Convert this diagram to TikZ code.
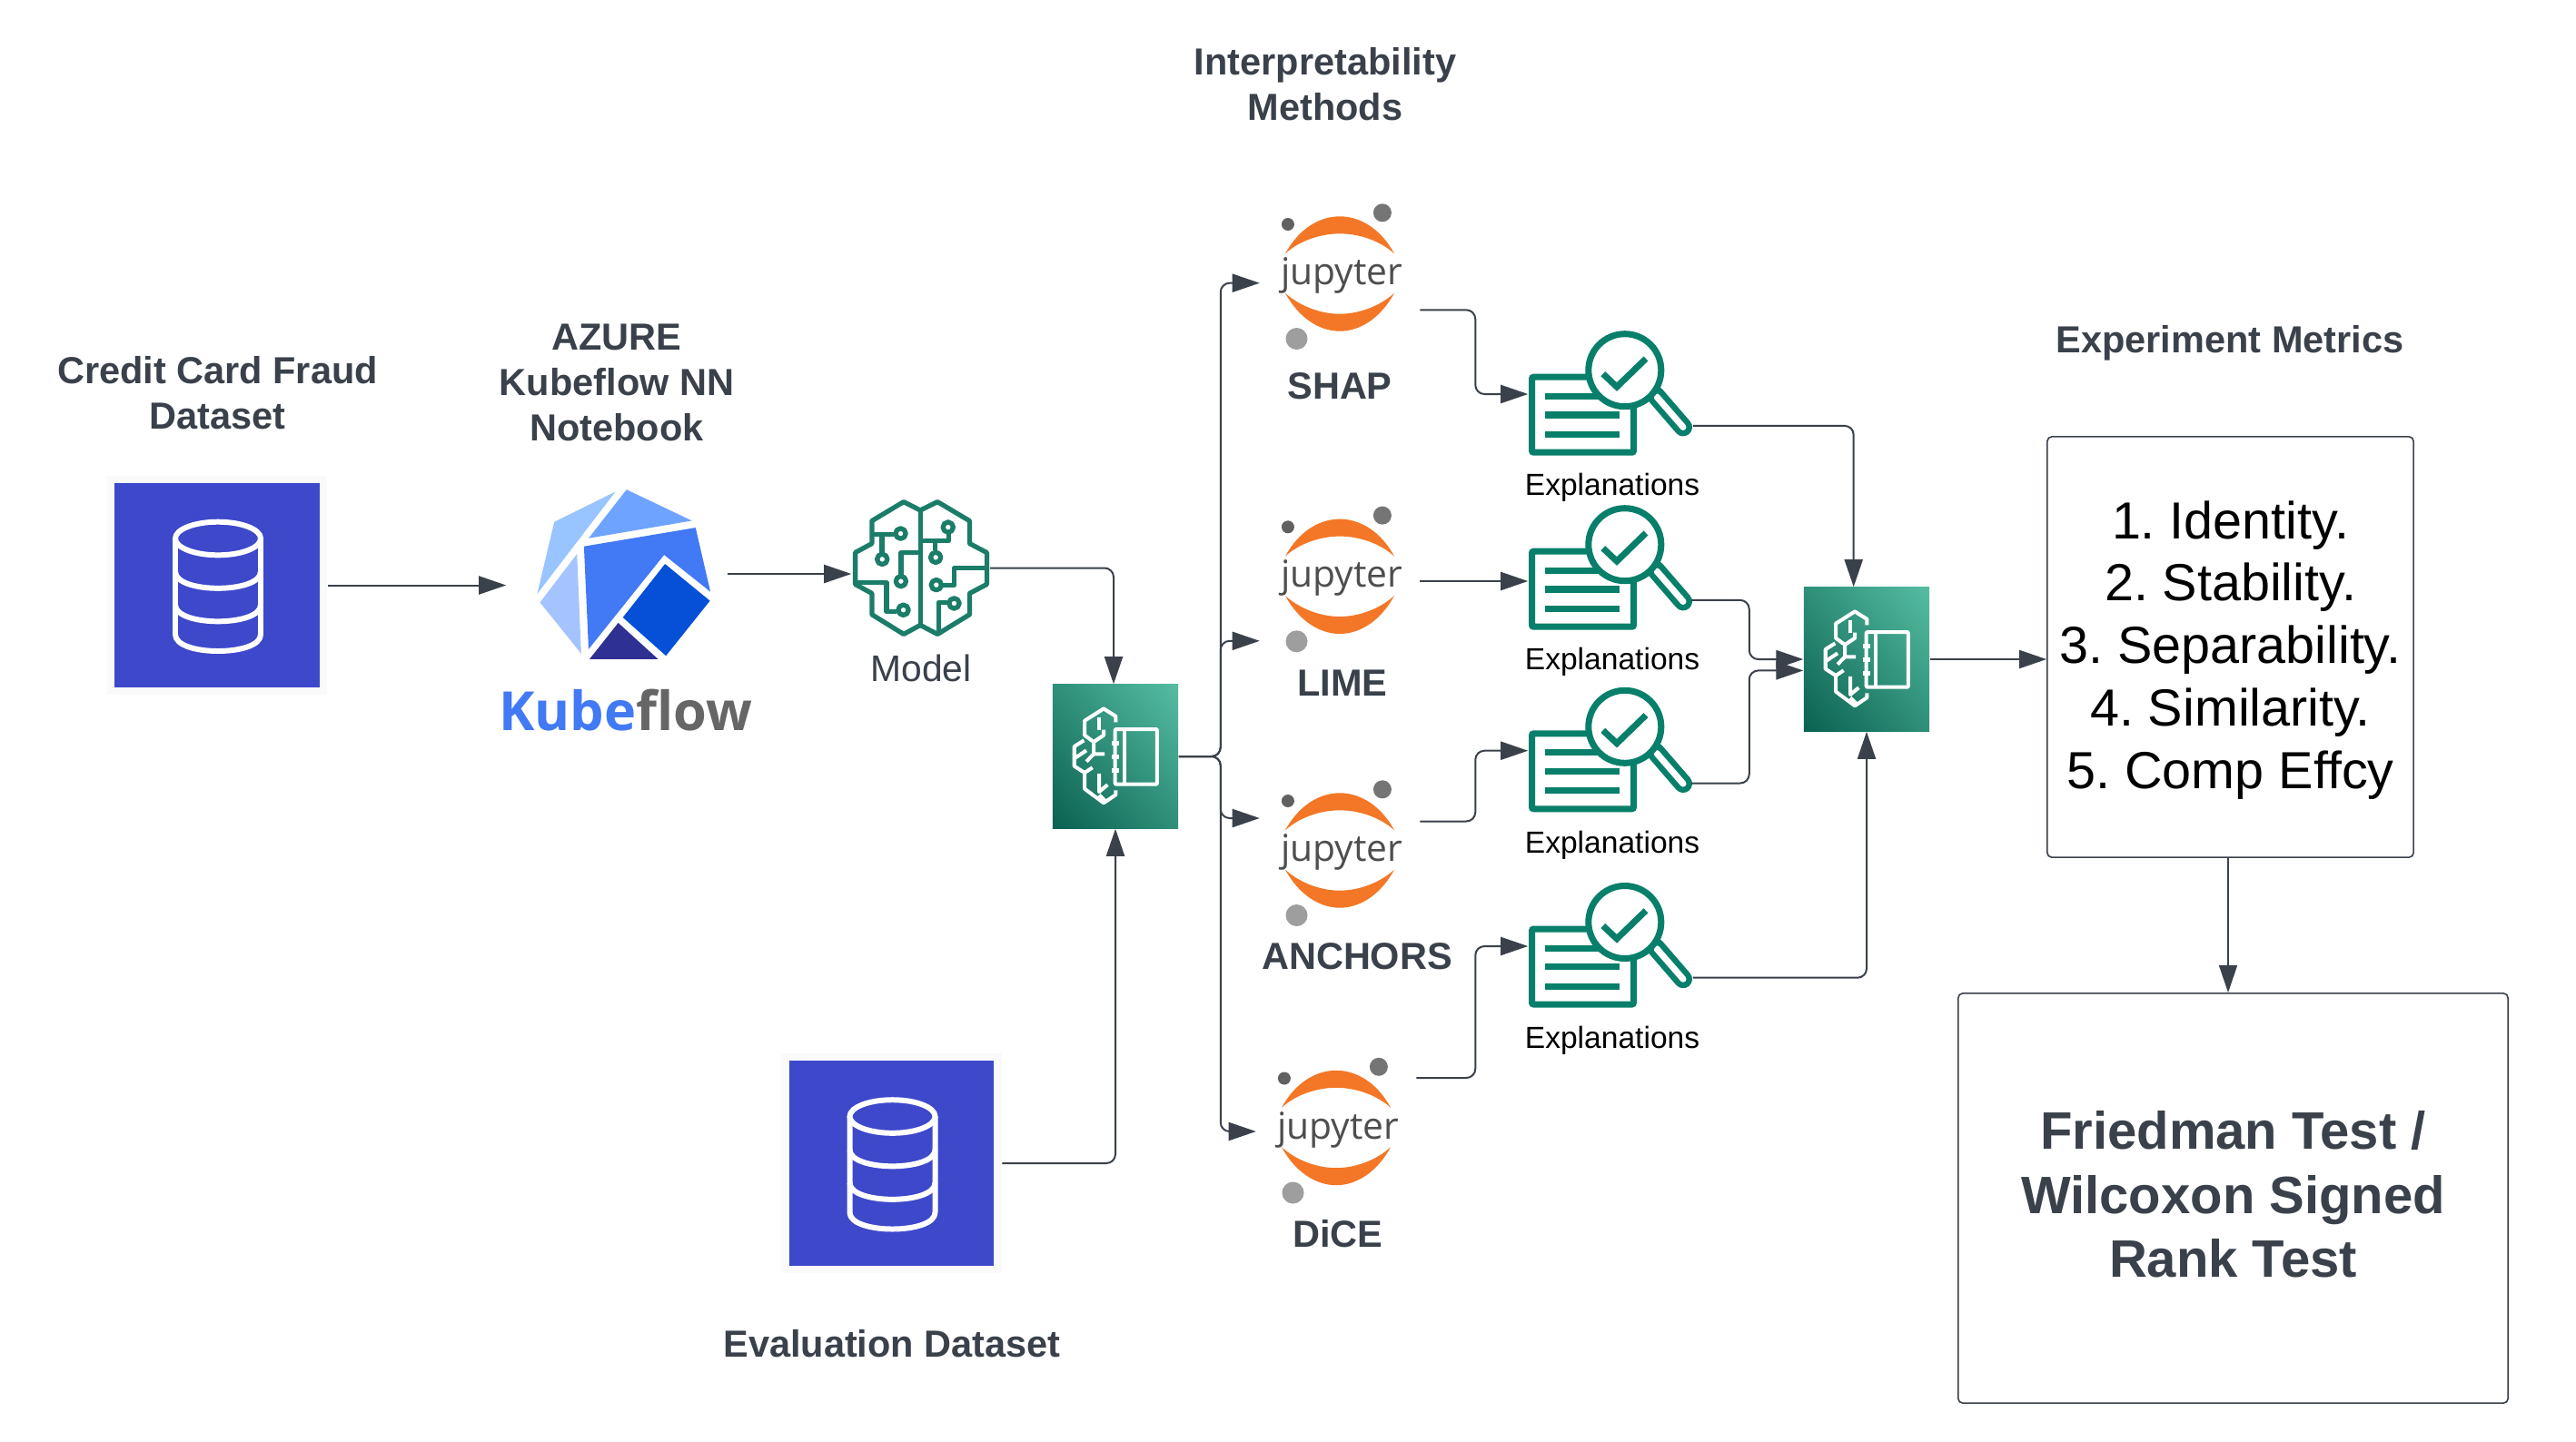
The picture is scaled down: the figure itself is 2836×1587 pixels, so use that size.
\documentclass[tikz,border=0pt]{standalone}
\usepackage{fontspec}
\setmainfont{Liberation Sans}
\newfontfamily\osans{Open Sans}
\usetikzlibrary{arrows.meta,calc,shadings}
\frenchspacing
\definecolor{ink}{HTML}{3A414A}
\definecolor{dbblue}{HTML}{3D48CB}
\definecolor{frameg}{HTML}{FAFAFA}
\definecolor{brainc}{HTML}{1B7D68}
\definecolor{expc}{HTML}{087F6A}
\definecolor{jorange}{HTML}{F37726}
\definecolor{jtext}{HTML}{4E4E4E}
\definecolor{kfblue}{HTML}{4279F4}
\definecolor{kfgrey}{HTML}{666666}
\definecolor{smdark}{HTML}{0A6150}
\definecolor{smlight}{HTML}{55BDA1}
\definecolor{smmid}{HTML}{2F8F79}
\definecolor{kfa}{HTML}{98C4FF}
\definecolor{kfb}{HTML}{6EA3FF}
\definecolor{kfc}{HTML}{A5C4FF}
\definecolor{kfd}{HTML}{0550D6}
\definecolor{kfe}{HTML}{2E3191}
\tikzset{
  conn/.style={draw=ink,line width=0.57pt,rounded corners=0.1cm,-{Triangle[length=0.3cm,width=0.2cm,fill=ink]}},
  iconbox/.style={rectangle,inner sep=0pt,minimum width=#1},
  dbframe/.style={rectangle,inner sep=0pt,fill=frameg,minimum width=2.42cm,minimum height=2.41cm},
  smbox/.style={rectangle,inner sep=0pt,minimum width=1.38cm,minimum height=1.58cm,shade,
    lower left=smdark,upper right=smlight,upper left=smmid,lower right=smmid},
  boldlbl/.style={font=\fontsize{11.8}{14.3}\selectfont\bfseries,text=ink,align=center,inner sep=0pt},
  explbl/.style={font=\fontsize{9.55}{11}\selectfont,text=black,inner sep=0pt,anchor=base},
  metricbox/.style={draw=ink,line width=0.45pt,rounded corners=0.05cm,rectangle,inner sep=0pt},
  dbicon/.pic={
    \draw[white,line width=1.7pt] (1,-51.5) ellipse [x radius=47,y radius=18.3];
    \draw[white,line width=1.7pt,line join=round] (-46,-51.5) -- (-46,54.2)
      .. controls (-46,78.6) and (48,78.6) .. (48,54.2) -- (48,-51.5);
    \draw[white,line width=1.7pt] (-46,-15) .. controls (-46,9.4) and (48,9.4) .. (48,-15);
    \draw[white,line width=1.7pt] (-46,21.5) .. controls (-46,45.9) and (48,45.9) .. (48,21.5);
  },
  jupyicon/.pic={
    \fill[jorange] (-60,-22.2) .. controls (-45,-50) and (-22,-63.2) .. (0,-63.2)
      .. controls (22,-63.2) and (45,-50) .. (60,-22.2)
      .. controls (45,-36) and (22,-44.2) .. (0,-44.2)
      .. controls (-22,-44.2) and (-45,-36) .. (-60,-22.2) -- cycle;
    \fill[jorange] (-60,21.2) .. controls (-45,49) and (-22,63.2) .. (0,63.2)
      .. controls (22,63.2) and (45,49) .. (60,21.2)
      .. controls (45,35) and (22,44.2) .. (0,44.2)
      .. controls (-22,44.2) and (-45,35) .. (-60,21.2) -- cycle;
    \fill[fill=black!62] (-57.1,-54.5) circle[radius=7];
    \fill[fill=black!54] (46.9,-67.2) circle[radius=10];
    \fill[fill=black!38] (-47.5,71.5) circle[radius=12];
    \node[anchor=base,inner sep=0pt,text=jtext,font=\osans\fontsize{11.6}{13}\selectfont] (-t) at (2,12) {jupyter};
  },
  expicon/.pic={
    \draw[expc,line width=2pt,rounded corners=0.02cm] (-86.5,-17.2) rectangle (25.5,65.8);
    \foreach \yy in {3.9,24.6,45.9} \draw[expc,line width=2pt] (-72,\yy) -- (10,\yy);
    \draw[expc,line width=5.7pt,line cap=round] (49.4,2.6) -- (80,38);
    \draw[white,line width=2pt,line cap=round] (51,4.6) -- (80,38);
    \draw[expc,line width=2pt,fill=white] (15.8,-24.7) circle[radius=40];
    \draw[expc,line width=2pt] (-8.2,-20.7) -- (7,-6.4) -- (39,-37.4);
  },
  brainicon/.pic={
    \begin{scope}[x=0.003333cm,y=-0.003333cm,shift={(-341,-316)},brainc,line width=1.5pt,line join=round]
      \draw (340,125) -- (285,97) -- (180,160) -- (180,235) -- (125,265) -- (125,370) -- (180,400) -- (180,470) -- (285,535) -- (340,505)
        -- (397,535) -- (503,470) -- (503,400) -- (560,370) -- (560,265) -- (503,235) -- (503,160) -- (397,97) -- cycle;
      \draw (340,125) -- (340,505);
      \draw (180,205) -- (253,205) (213,205) -- (213,265);
      \draw (276,338) -- (276,265) -- (340,265);
      \draw (125,365) -- (228,365) -- (228,460) -- (262,460);
      \draw (340,225) -- (435,225) -- (435,203) (390,225) -- (390,258);
      \draw (560,315) -- (453,315) -- (453,372) -- (415,372);
      \draw (400,525) -- (400,430) -- (430,430);
      \foreach \cx/\cy in {275/202,214/287,276/360,284/455,432/181,391/281,393/372,452/433}
        \draw (\cx,\cy) circle[radius=17];
    \end{scope}
  },
  smicon/.pic={
    \begin{scope}[x=0.003333cm,y=-0.003333cm,shift={(-984,-938)},white,line width=1.15pt,line join=round]
      \draw[rounded corners=0.01cm] (983,848) rectangle (1122,1030);
      \draw (1015,848) -- (1015,1030);
      \foreach \yy in {895,940,985} \draw[line width=1.5pt] (972,\yy) -- (995,\yy);
      \draw (985,825) -- (985,805) -- (945,780) -- (882,820) -- (882,868) -- (912,890) -- (945,868) -- (945,850);
      \draw (930,810) -- (930,850);
      \draw (880,885) -- (848,905) -- (848,970) -- (882,992) -- (908,975);
      \draw (848,945) -- (888,918);
      \draw (912,890) -- (912,930) -- (888,955) (912,930) -- (948,930);
      \draw (882,992) -- (882,1045) -- (945,1092) -- (985,1065) -- (985,1050);
      \draw (930,995) -- (930,1055) -- (958,1032) (930,1065) -- (952,1087);
    \end{scope}
  },
  kficon/.pic={
    \begin{scope}[x=0.005102cm,y=-0.003333cm,shift={(-1134.8,-396)}]
      \fill[fill=kfa] (1132,124) -- (1000,224) -- (963,462) -- cycle;
      \fill[fill=kfb] (1156,117) -- (1297,220) -- (1074,278) -- cycle;
      \fill[fill=kfc] (1049,330) -- (969,490) -- (1058,660) -- cycle;
      \fill[fill=kfblue] (1064,305) -- (1305,243) -- (1337,455) -- (1237,333) -- (1074,645) -- cycle;
      \fill[fill=kfd] (1239,363) -- (1336,485) -- (1241,667) -- (1148,540) -- cycle;
      \fill[fill=kfe] (1138,558) -- (1224,678) -- (1076,678) -- cycle;
    \end{scope}
  }
}
\begin{document}
\begin{tikzpicture}[x=0.01cm,y=-0.01cm]
\useasboundingbox (0,0) rectangle (2836,1587);
\fill[white] (0,0) rectangle (2836,1587);

% data sets
\node[dbframe] (db1) at (239,644.5) {};
\node[rectangle,fill=dbblue,inner sep=0pt,minimum size=2.25cm] (db1in) at (db1.center) {};
\pic at (db1.center) {dbicon};
\node[dbframe] (db2) at (981.5,1281) {};
\node[rectangle,fill=dbblue,inner sep=0pt,minimum size=2.25cm] (db2in) at (db2.center) {};
\pic at (db2.center) {dbicon};

% Kubeflow
\node[iconbox=2.42cm,minimum height=2cm] (kf) at (679,632) {};
\pic at (kf.center) {kficon};
\node[anchor=base,inner sep=0pt,font=\osans\bfseries\fontsize{16.9}{18}\selectfont] (kftext) at (688.5,804)
  {\textcolor{kfblue}{Kube}\textcolor{kfgrey}{flow}};

% brain
\node[iconbox=1.51cm,minimum height=1.49cm] (brain) at (1013.5,625.5) {};
\pic at (brain.center) {brainicon};
\node[anchor=base,inner sep=0pt,text=ink,font=\fontsize{11.6}{13}\selectfont] (modellbl) at (1014,750) {Model};

% SageMaker boxes
\node[smbox] (sm1) at (1228,833) {};
\pic at (sm1.center) {smicon};
\node[smbox] (sm2) at (2055,726) {};
\pic at (sm2.center) {smicon};

% jupyter
\foreach \nm/\px/\py in {j1/1475/301.5,j2/1475/634.8,j3/1475/936.5,j4/1471/1242}{
  \node[iconbox=1.75cm,minimum height=2.5cm] (\nm) at (\px,\py) {};
  \pic (\nm pic) at (\nm.center) {jupyicon};
}

% explanations
\foreach \nm/\py/\ly in {e1/432.4/545,e2/624.4/737,e3/825/939.4,e4/1040.2/1154.6}{
  \node[iconbox=1.8cm,minimum height=1.39cm] (\nm) at (1773,\py) {};
  \pic at (\nm.center) {expicon};
  \node[explbl] (\nm lbl) at (1775,\ly) {Explanations};
}

% labels
\node[boldlbl] (l1) at (239.5,433) {Credit Card Fraud\\Dataset};
\node[boldlbl] (l2) at (679,421.5) {AZURE\\Kubeflow NN\\Notebook};
\node[boldlbl] (l3) at (1459,92.5) {Interpretability\\Methods};
\node[boldlbl] (l4) at (1475,425) {SHAP};
\node[boldlbl] (l5) at (1478,752.5) {LIME};
\node[boldlbl] (l6) at (1494,1053) {ANCHORS};
\node[boldlbl] (l7) at (1473,1358.6) {DiCE};
\node[boldlbl] (l8) at (982,1480) {Evaluation Dataset};
\node[boldlbl] (l9) at (2455,378) {Experiment Metrics};

% result boxes
\node[metricbox,minimum width=4.03cm,minimum height=4.63cm] (metrics) at (2455.5,712.5) {};
\node[inner sep=0pt,align=center,font=\fontsize{16.35}{19.6}\selectfont,text=black] (mtext) at (2455.5,716)
  {1. Identity.\\2. Stability.\\3. Separability.\\4. Similarity.\\5. Comp Effcy};
\node[metricbox,minimum width=6.05cm,minimum height=4.51cm] (friedman) at (2458.5,1319.5) {};
\node[inner sep=0pt,align=center,font=\fontsize{16.5}{20}\selectfont\bfseries,text=ink] (ftext) at (2458.5,1315.5)
  {Friedman Test /\\Wilcoxon Signed\\Rank Test};

% connectors
\draw[conn] (db1.east) -- (db1.east -| kf.west);
\draw[conn] (kf.east) -- (kf.east -| brain.west);
\draw[conn] (brain.east) -| ($(sm1.north)+(-2,0)$);
\draw[conn] (db2.east) -| (sm1.south);
\draw[conn] (sm1.east) -- ++(46,0) |- ($(j1.west)+(0,10.2)$);
\draw[conn] (sm1.east) -- ++(46,0) |- ($(j2.west)+(0,71)$);
\draw[conn] (sm1.east) -- ++(46,0) |- ($(j3.west)+(0,-35.5)$);
\draw[conn] (sm1.east) -- ++(46,0) |- ($(j4.west)+(0,4)$);
\draw[conn] ($(j1.east)+(0,39.8)$) -- ++(61,0) |- ($(e1.west)+(0,1.6)$);
\draw[conn] ($(j2.east)+(0,5.2)$) -- ($(e2.west)+(0,15.6)$);
\draw[conn] ($(j3.east)+(0,-32)$) -- ++(61,0) |- ($(e3.west)+(0,1.7)$);
\draw[conn] ($(j4.east)+(0,-55)$) -- ++(65,0) |- ($(e4.west)+(0,1.8)$);
\draw[conn] ($(e1.east)+(0,36.5)$) -| ($(sm2.north)+(-14.3,0)$);
\draw[conn] ($(e2.east)+(-2,36.5)$) -- ++(64,0) |- (sm2.west);
\draw[conn] ($(e3.east)+(-2,37.5)$) -- ++(64,0) |- ($(sm2.west)+(0,12.4)$);
\draw[conn] ($(e4.east)+(0,36.5)$) -| (sm2.south);
\draw[conn] (sm2.east) -- (sm2.east -| metrics.west);
\draw[conn,line width=0.4pt] ($(metrics.south)+(-2.5,0)$) -- ($(metrics.south |- friedman.north)+(-2.5,0)$);
\end{tikzpicture}
\end{document}
